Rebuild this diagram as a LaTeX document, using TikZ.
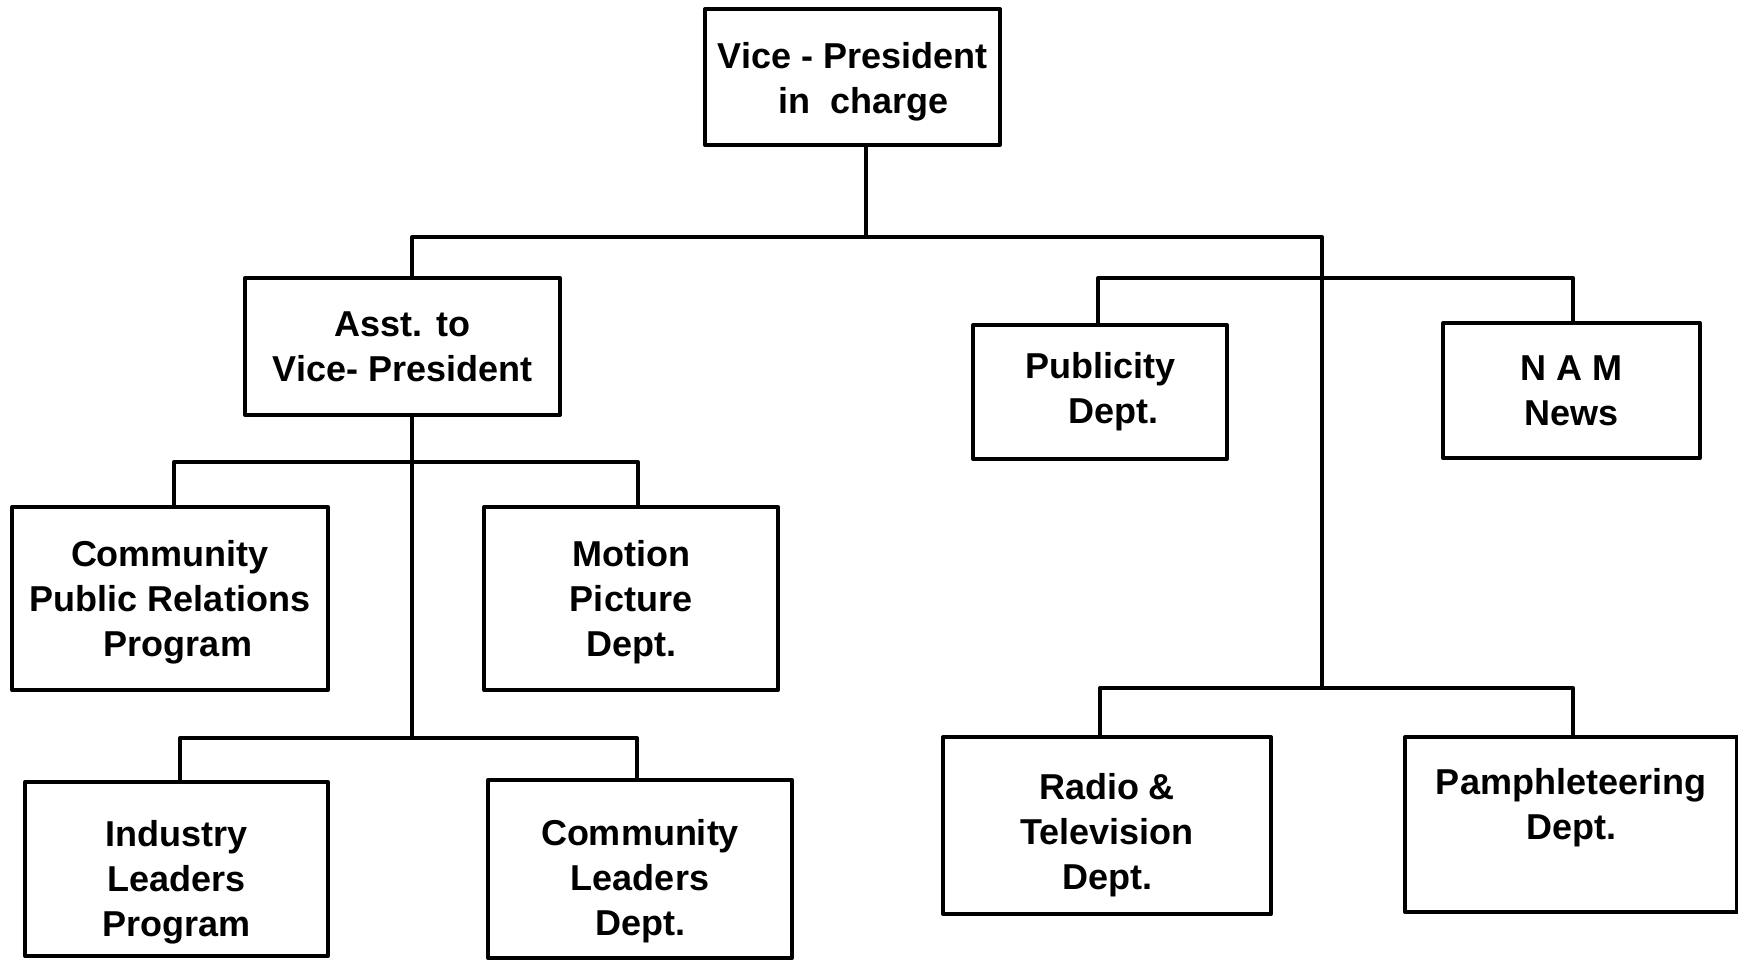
\documentclass[tikz,border=0pt]{standalone}
\usepackage{fontspec}
\setmainfont{Liberation Sans}
\begin{document}
\begin{tikzpicture}[x=0.5pt, y=-0.5pt,
  line width=2pt, line join=round,
  box/.style={draw, line width=2pt, inner sep=0pt},
  txt/.style={inner sep=0pt, align=center,
    font=\bfseries\fontsize{18}{22.5}\selectfont},
  link/.style={line width=2pt}]
\useasboundingbox (0,0) rectangle (1738,959);

% boxes
\node[box, minimum width=147.5pt, minimum height=68pt]   (vp)   at (852.5,77)    {};
\node[box, minimum width=157.5pt, minimum height=68.5pt] (asst) at (402.5,346.5) {};
\node[box, minimum width=158pt,   minimum height=91.5pt] (cpr)  at (170,598.5)   {};
\node[box, minimum width=147pt,   minimum height=91.5pt] (mp)   at (631,598.5)   {};
\node[box, minimum width=151.5pt, minimum height=87pt]   (ilp)  at (176.5,869)   {};
\node[box, minimum width=152pt,   minimum height=89pt]   (cld)  at (640,869)     {};
\node[box, minimum width=127pt,   minimum height=67pt]   (pub)  at (1100,392)    {};
\node[box, minimum width=128.5pt, minimum height=67.5pt] (nam)  at (1571.5,390.5){};
\node[box, minimum width=164pt,   minimum height=88.5pt] (rad)  at (1107,825.5)  {};
\node[box, minimum width=166pt,   minimum height=87.5pt] (pam)  at (1571,824.5)  {};

% box texts
\node[txt] (vpt)   at ([yshift=-2.2pt]vp.center)   {Vice - President\\\hspace*{11pt}in\ \ charge};
\node[txt] (asstt) at (asst.center)                {Asst. to\\Vice- President};
\node[txt] (cprt)  at ([yshift=-1.7pt]cpr.center)  {Community\\Public Relations\\\hspace*{8pt}Program};
\node[txt] (mpt)   at ([yshift=-1.7pt]mp.center)   {Motion\\Picture\\Dept.};
\node[txt] (ilpt)  at ([yshift=-6.6pt]ilp.center)  {Industry\\Leaders\\Program};
\node[txt] (cldt)  at ([yshift=-6pt]cld.center)    {Community\\Leaders\\Dept.};
\node[txt] (pubt)  at (pub.center)                 {Publicity\\\hspace*{13pt}Dept.};
\node[txt] (namt)  at (nam.center)                 {N A M\\News};
\node[txt] (radt)  at ([yshift=-5pt]rad.center)    {Radio \&\\Television\\Dept.};
\node[txt] (pamt)  at ([yshift=8.2pt]pam.center)   {Pamphleteering\\Dept.};

% bus junctions
\coordinate (vpdrop) at (866,237);
\coordinate (lbus) at (412,237);
\coordinate (rbus) at (1322,237);
\coordinate (lj1) at (412,462);
\coordinate (lj2) at (412,738);
\coordinate (rj2) at (1322,688);

% trunk
\draw[link] (vp.south -| vpdrop) -- (vpdrop);
\draw[link] (asst.north -| lbus) -- (lbus) -- (rbus) -- (rj2);

% under the assistant
\draw[link] (asst.south -| lj1) -- (lj2);
\draw[link] (cpr.north -| 174,0) -- (174,462) -- (638,462) -- (mp.north -| 638,0);
\draw[link] (ilp.north -| 180,0) -- (180,738) -- (637,738) -- (cld.north -| 637,0);

% right side
\draw[link] (pub.north -| 1098,0) -- (1098,278) -- (1573,278) -- (nam.north -| 1573,0);
\draw[link] (rad.north -| 1100,0) -- (1100,688) -- (1573,688) -- (pam.north -| 1573,0);
\end{tikzpicture}
\end{document}
